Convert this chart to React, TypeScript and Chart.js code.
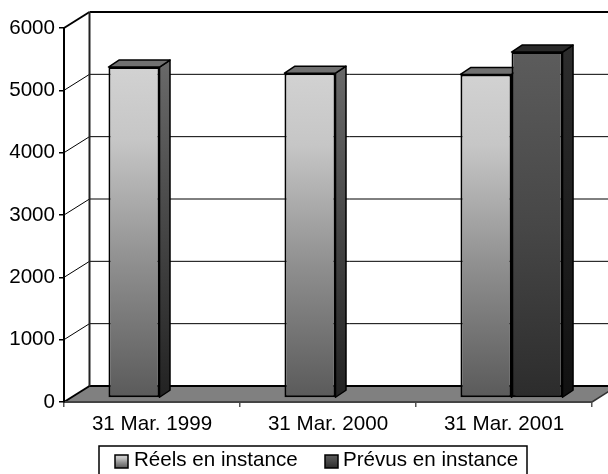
import React, { useEffect, useRef } from "react";
import { Chart, registerables } from "chart.js";

Chart.register(...registerables);

const categories = ["31 Mar. 1999", "31 Mar. 2000", "31 Mar. 2001"];
const reelsEnInstance = [5310, 5210, 5190];
const prevusEnInstance = [null, null, 5550];
const yMax = 6000;
const yStep = 1000;

const FONT = "Liberation Sans, Arial, sans-serif";
const FONT_SIZE = 20.6;

// Depth of the box (walls and floor) and of each column
const WALL_DX = 25.5;
const WALL_DY = -16;
const BAR_SHIFT_X = 7.5;
const BAR_SHIFT_Y = -4;
const BAR_DX = 10.5;
const BAR_DY = -7;

type Shade = { stops: [number, string][]; sideTop: string; sideBottom: string; top: string };
const shadeReels: Shade = {
  stops: [[0, "#d2d2d2"], [0.22, "#c6c6c6"], [0.6, "#8e8e8e"], [1, "#5a5a5a"]],
  sideTop: "#686868",
  sideBottom: "#222222",
  top: "#707070",
};
const shadePrevus: Shade = {
  stops: [[0, "#5c5c5c"], [0.5, "#474747"], [1, "#2c2c2c"]],
  sideTop: "#2c2c2c",
  sideBottom: "#111111",
  top: "#2a2a2a",
};
const shades = [shadeReels, shadePrevus];

function fillGradient(ctx: CanvasRenderingContext2D, top: number, bottom: number, stops: [number, string][]) {
  const g = ctx.createLinearGradient(0, top, 0, bottom);
  stops.forEach(([o, c]) => g.addColorStop(o, c));
  return g;
}

function polygon(ctx: CanvasRenderingContext2D, pts: number[][], fill: any, stroke = "#000", lw = 1.5) {
  ctx.beginPath();
  pts.forEach(([x, y], i) => (i ? ctx.lineTo(x, y) : ctx.moveTo(x, y)));
  ctx.closePath();
  ctx.fillStyle = fill;
  ctx.fill();
  if (lw > 0) {
    ctx.strokeStyle = stroke;
    ctx.lineWidth = lw;
    ctx.lineJoin = "round";
    ctx.stroke();
  }
}

function line(ctx: CanvasRenderingContext2D, x1: number, y1: number, x2: number, y2: number, lw: number, color = "#000") {
  ctx.beginPath();
  ctx.moveTo(x1, y1);
  ctx.lineTo(x2, y2);
  ctx.lineWidth = lw;
  ctx.strokeStyle = color;
  ctx.stroke();
}

// Back wall, side wall and floor of the box, painted under the axes
const boxPlugin = {
  id: "box3d",
  beforeDraw(chart: any) {
    const { ctx, chartArea, scales } = chart;
    const { left, right, bottom } = chartArea;
    const y = scales.y;
    ctx.save();
    polygon(
      ctx,
      [
        [left, bottom],
        [right, bottom],
        [right + WALL_DX, bottom + WALL_DY],
        [left + WALL_DX, bottom + WALL_DY],
      ],
      "#808080",
      "#000",
      0,
    );
    line(ctx, left + WALL_DX, bottom + WALL_DY, right + WALL_DX, bottom + WALL_DY, 2);
    line(ctx, left, bottom, left + WALL_DX, bottom + WALL_DY, 2);
    line(ctx, right, bottom, right + WALL_DX, bottom + WALL_DY, 1.5, "#333");
    for (let v = yStep; v <= yMax; v += yStep) {
      const py = y.getPixelForValue(v);
      const thick = v === yMax ? 2 : 1;
      line(ctx, left, py, left + WALL_DX, py + WALL_DY, thick);
      line(ctx, left + WALL_DX, py + WALL_DY, right + WALL_DX, py + WALL_DY, thick);
    }
    line(ctx, left + WALL_DX, y.getPixelForValue(yMax) + WALL_DY, left + WALL_DX, bottom + WALL_DY, 2, "#222");
    ctx.restore();
  },
};

// Column sides and lids; the fronts are Chart.js bars shifted into the box depth
const columnPlugin = {
  id: "column3d",
  beforeDatasetsDraw(chart: any) {
    const { ctx } = chart;
    ctx.save();
    ctx.translate(BAR_SHIFT_X, BAR_SHIFT_Y);
    chart.data.datasets.forEach((ds: any, d: number) => {
      const shade = shades[d];
      chart.getDatasetMeta(d).data.forEach((bar: any, i: number) => {
        if (ds.data[i] == null) return;
        const half = bar.width / 2;
        const l = bar.x - half;
        const r = bar.x + half;
        polygon(
          ctx,
          [
            [r, bar.y],
            [r + BAR_DX, bar.y + BAR_DY],
            [r + BAR_DX, bar.base + BAR_DY],
            [r, bar.base],
          ],
          fillGradient(ctx, bar.y, bar.base, [
            [0, shade.sideTop],
            [1, shade.sideBottom],
          ]),
        );
        polygon(
          ctx,
          [
            [l, bar.y],
            [l + BAR_DX, bar.y + BAR_DY],
            [r + BAR_DX, bar.y + BAR_DY],
            [r, bar.y],
          ],
          shade.top,
        );
      });
    });
    ctx.restore();
    ctx.save();
    ctx.translate(BAR_SHIFT_X, BAR_SHIFT_Y);
  },
  afterDatasetsDraw(chart: any) {
    chart.ctx.restore();
  },
};

// Boxed legend along the bottom edge; its lower border runs past the canvas
const legendPlugin = {
  id: "boxedLegend",
  afterDraw(chart: any) {
    const { ctx } = chart;
    ctx.save();
    ctx.strokeStyle = "#000";
    ctx.lineWidth = 1.5;
    ctx.strokeRect(99, 446, 428, 32);
    const swatchX = [115, 325];
    const textX = [134, 343];
    ctx.font = `${FONT_SIZE}px ${FONT}`;
    ctx.textBaseline = "alphabetic";
    chart.data.datasets.forEach((ds: any, i: number) => {
      ctx.fillStyle = fillGradient(ctx, 455, 468, shades[i].stops);
      ctx.fillRect(swatchX[i], 455, 13, 13);
      ctx.strokeRect(swatchX[i], 455, 13, 13);
      ctx.fillStyle = "#000";
      ctx.fillText(ds.label, textX[i], 466);
    });
    ctx.restore();
  },
};

export default function App() {
  const ref = useRef<HTMLCanvasElement>(null);

  useEffect(() => {
    document.body.style.margin = "0";
    const barFill = (shade: Shade) => (c: any) => {
      const { chart, parsed } = c;
      if (!parsed || parsed.y == null || Number.isNaN(parsed.y) || !chart.chartArea) return shade.stops[0][1];
      const y = chart.scales.y;
      return fillGradient(chart.ctx, y.getPixelForValue(parsed.y), y.getPixelForValue(0), shade.stops);
    };
    const tickFont = { family: FONT, size: FONT_SIZE };
    const chart = new Chart(ref.current!, {
      type: "bar",
      data: {
        labels: categories,
        datasets: [
          {
            label: "Réels en instance",
            data: reelsEnInstance,
            backgroundColor: barFill(shadeReels),
            borderColor: "#000",
            borderWidth: 2,
            borderSkipped: false,
          },
          {
            label: "Prévus en instance",
            data: prevusEnInstance,
            backgroundColor: barFill(shadePrevus),
            borderColor: "#000",
            borderWidth: 2,
            borderSkipped: false,
          },
        ],
      } as any,
      options: {
        responsive: false,
        animation: false,
        layout: { padding: { top: 28, right: 16, left: 0, bottom: 0 } },
        datasets: { bar: { barPercentage: 1, categoryPercentage: 0.58 } },
        plugins: { legend: { display: false }, tooltip: { enabled: false } },
        scales: {
          x: {
            afterFit: (s: any) => {
              s.height = 72;
            },
            grid: { offset: true, drawOnChartArea: false, tickLength: 5, color: "#555", lineWidth: 1.5 },
            border: { color: "#444", width: 2 },
            ticks: { color: "#000", font: tickFont, padding: 5, maxRotation: 0, autoSkip: false },
          },
          y: {
            min: 0,
            max: yMax,
            afterFit: (s: any) => {
              s.width = 64;
            },
            grid: { drawOnChartArea: false, tickLength: 5, color: "#000", lineWidth: 1.5 },
            border: { color: "#000", width: 2 },
            ticks: { stepSize: yStep, color: "#000", font: tickFont, padding: 4, callback: (v: any) => String(v) },
          },
        },
      } as any,
      plugins: [boxPlugin, columnPlugin, legendPlugin],
    });
    return () => chart.destroy();
  }, []);

  return <canvas ref={ref} width={608} height={474} style={{ display: "block" }} />;
}
